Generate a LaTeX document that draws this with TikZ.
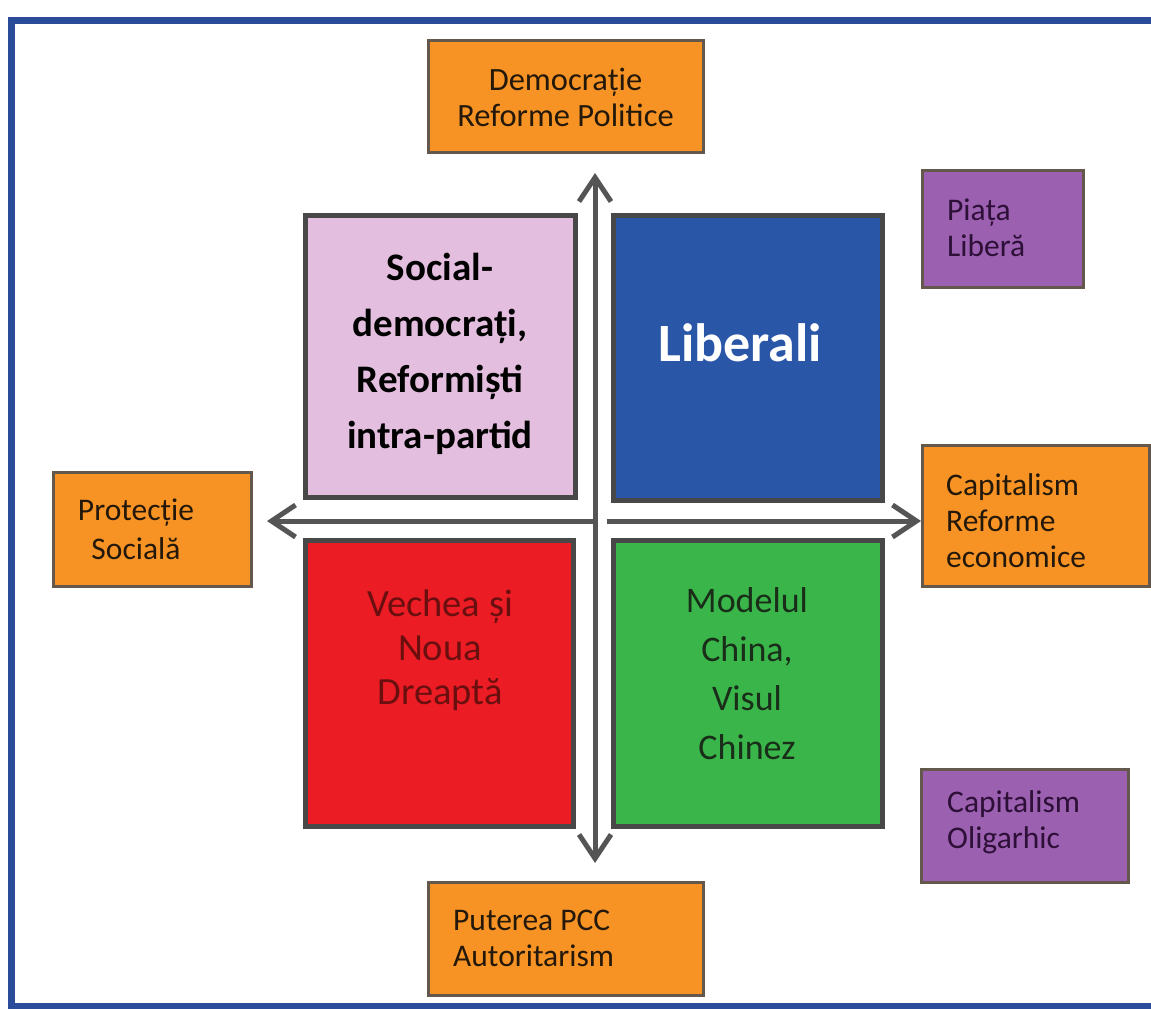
\documentclass[tikz,border=0pt]{standalone}
\usepackage{fontspec}
\setmainfont{Carlito}
\usetikzlibrary{arrows.meta}
\definecolor{framecol}{RGB}{43,76,154}
\definecolor{orangef}{RGB}{246,147,36}
\definecolor{purplef}{RGB}{155,96,176}
\definecolor{pinkf}{RGB}{228,190,222}
\definecolor{bluef}{RGB}{42,86,168}
\definecolor{redf}{RGB}{236,28,36}
\definecolor{greenf}{RGB}{58,181,74}
\definecolor{arrowc}{RGB}{85,85,85}
\definecolor{boxline}{RGB}{100,88,76}
\definecolor{bigline}{RGB}{72,72,72}
\definecolor{orangetext}{RGB}{35,24,10}
\definecolor{purpletext}{RGB}{45,15,55}
\definecolor{redtext}{RGB}{105,15,15}
\definecolor{greentext}{RGB}{25,45,25}
\begin{document}
\begin{tikzpicture}[x=1pt,y=-1pt,
  smallbox/.style={draw=boxline, line width=3pt, inner sep=0pt},
  obox/.style={smallbox, fill=orangef},
  pbox/.style={smallbox, fill=purplef},
  bigbox/.style={draw=bigline, line width=5pt, inner sep=0pt},
  smalltxt/.style={font=\fontsize{31.5}{36}\selectfont, inner sep=0pt},
  otxt/.style={smalltxt, text=orangetext},
  ptxt/.style={smalltxt, text=purpletext},
  axis/.style={draw=arrowc, line width=5pt, >={Straight Barb[length=24pt,width=32pt]}},
]
\useasboundingbox (0,0) rectangle (1151,1009);
\clip (0,0) rectangle (1151,1009);
\fill[white] (0,0) rectangle (1151,1009);
\draw[framecol, line width=7pt] (11,20) rectangle (1180,1006);

% outer boxes
\node[obox, minimum width=275pt, minimum height=112pt] (dem) at (565.5,96) {};
\node[otxt, align=center, font=\fontsize{32.5}{36}\selectfont] (demt) at (565.5,97) {Democrație\\Reforme Politice};

\node[pbox, minimum width=161pt, minimum height=117pt] (piata) at (1002.5,228.5) {};
\node[ptxt, align=left, anchor=west] (piatat) at (947,228) {Piața\\Liberă};

\node[obox, minimum width=227pt, minimum height=141pt] (cap) at (1035.5,515.5) {};
\node[otxt, align=left, anchor=west] (capt) at (946,521) {Capitalism\\Reforme\\economice};

\node[obox, minimum width=198pt, minimum height=114pt] (prot) at (152,529) {};
\node[otxt, align=center, font=\fontsize{31.5}{39}\selectfont] (prott) at (136,529) {Protecție\\Socială};

\node[pbox, minimum width=207pt, minimum height=113pt] (olig) at (1024.5,825.5) {};
\node[ptxt, align=left, anchor=west] (oligt) at (947,822) {Capitalism\\Oligarhic};

\node[obox, minimum width=275pt, minimum height=113pt] (pcc) at (565.5,938.5) {};
\node[otxt, align=left, anchor=west] (pcct) at (453,938) {Puterea PCC\\Autoritarism};

% quadrants
\node[bigbox, fill=pinkf, minimum width=270pt, minimum height=282pt] (sd) at (440,356) {};
\node[inner sep=0pt, align=center, text=black, font=\bfseries\fontsize{39}{56}\selectfont] (sdt) at (440,354) {Social-\\democrați,\\Reformiști\\intra-partid};

\node[bigbox, fill=bluef, minimum width=269pt, minimum height=285pt] (lib) at (747.5,357.5) {};
\node[inner sep=0pt, text=white, font=\bfseries\fontsize{54}{60}\selectfont] (libt) at (740,343) {Liberali};

\node[bigbox, fill=redf, minimum width=268pt, minimum height=286pt] (dr) at (439,683) {};
\node[inner sep=0pt, align=center, text=redtext, font=\fontsize{38.5}{44}\selectfont] (drt) at (440,650) {Vechea și\\Noua\\Dreaptă};

\node[bigbox, fill=greenf, minimum width=269pt, minimum height=286pt] (ch) at (747.5,683) {};
\node[inner sep=0pt, align=center, text=greentext, font=\fontsize{36}{49}\selectfont] (cht) at (747,674) {Modelul\\China,\\Visul\\Chinez};

% axes
\coordinate (vtop) at (595,173);
\coordinate (vbot) at (595,863);
\coordinate (hleft) at (267,521);
\coordinate (hright) at (921,521);
\coordinate (cl) at (593,521);
\coordinate (cr) at (607,521);
\draw[axis, <->] (vtop) -- (vbot);
\draw[axis, ->] (cl) -- (hleft);
\draw[axis, ->] (cr) -- (hright);
\end{tikzpicture}
\end{document}
